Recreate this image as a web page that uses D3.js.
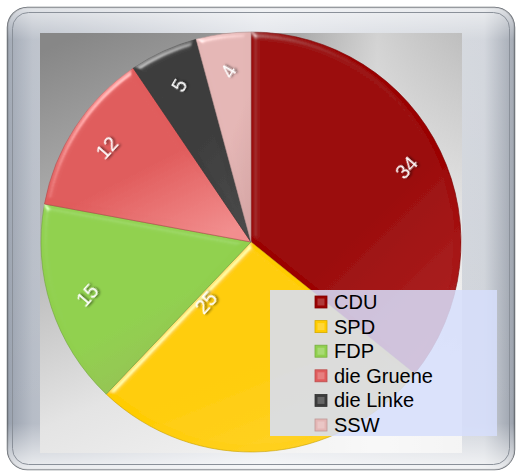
<!DOCTYPE html>
<html>
<head>
<meta charset="utf-8">
<script src="https://cdn.jsdelivr.net/npm/d3@7"></script>
<style>
  html, body { margin: 0; padding: 0; background: #fff; }
  svg { display: block; }
</style>
</head>
<body>
<svg id="chart" width="518" height="473"></svg>
<script>
const parties = ['CDU', 'SPD', 'FDP', 'die Gruene', 'die Linke', 'SSW'];
const seats = [34, 25, 15, 12, 5, 4];
const partyColors = ['#9a0202', '#ffcc00', '#90d04e', '#e05c5c', '#3c3c3c', '#e4b6b5'];
const partyLight = ['#ae2222', '#ffd22a', '#9bbb59', '#f28e8e', '#484848', '#d6a6a5'];

const width = 518;
const height = 473;
const svg = d3.select('#chart');
const defs = svg.append('defs');

// frame gradients
const frameGrad = defs.append('linearGradient')
  .attr('id', 'frameGrad').attr('x1', 0).attr('x2', 1).attr('y1', 0).attr('y2', 0);
frameGrad.selectAll('stop')
  .data([['0', '#98a0ad'], ['0.05', '#b7bdc7'], ['0.5', '#dfe2e8'], ['0.94', '#cfd3da'], ['1', '#9aa1ac']])
  .join('stop').attr('offset', (d) => d[0]).attr('stop-color', (d) => d[1]);

const frameV = defs.append('linearGradient')
  .attr('id', 'frameV').attr('x1', 0).attr('x2', 0).attr('y1', 0).attr('y2', 1);
frameV.selectAll('stop')
  .data([['0', '#ffffff', 0.6], ['0.07', '#ffffff', 0.1], ['0.9', '#ffffff', 0], ['1', '#ffffff', 0.75]])
  .join('stop').attr('offset', (d) => d[0]).attr('stop-color', (d) => d[1]).attr('stop-opacity', (d) => d[2]);

const plotGrad = defs.append('linearGradient')
  .attr('id', 'plotGrad').attr('x1', 0.1).attr('x2', 0.55).attr('y1', 0).attr('y2', 1);
plotGrad.selectAll('stop')
  .data([['0', '#878787'], ['0.35', '#b0b0b0'], ['0.75', '#e4e4e4'], ['1', '#f2f2f2']])
  .join('stop').attr('offset', (d) => d[0]).attr('stop-color', (d) => d[1]);

const plotSheen = defs.append('linearGradient')
  .attr('id', 'plotSheen').attr('x1', 0).attr('x2', 1).attr('y1', 0).attr('y2', 0);
plotSheen.selectAll('stop')
  .data([['0', '#fff', 0], ['0.55', '#fff', 0], ['0.8', '#fff', 0.5], ['1', '#fff', 0.2]])
  .join('stop').attr('offset', (d) => d[0]).attr('stop-color', (d) => d[1]).attr('stop-opacity', (d) => d[2]);

parties.forEach((p, i) => {
  const g = defs.append('linearGradient')
    .attr('id', `slice${i}`).attr('x1', 0.2).attr('x2', 0.8).attr('y1', 0).attr('y2', 1);
  g.append('stop').attr('offset', 0).attr('stop-color', partyColors[i]);
  g.append('stop').attr('offset', 0.55).attr('stop-color', partyColors[i]);
  g.append('stop').attr('offset', 1).attr('stop-color', partyLight[i]);
});

const shadow = defs.append('filter').attr('id', 'txtShadow')
  .attr('x', '-50%').attr('y', '-50%').attr('width', '200%').attr('height', '200%');
shadow.append('feDropShadow')
  .attr('dx', 1.5).attr('dy', 1.5).attr('stdDeviation', 1)
  .attr('flood-color', '#000').attr('flood-opacity', 0.6);

// soft bevel on the slice edges
const bevel = defs.append('filter').attr('id', 'bevel')
  .attr('x', '-5%').attr('y', '-5%').attr('width', '110%').attr('height', '110%');
bevel.append('feGaussianBlur').attr('in', 'SourceAlpha').attr('stdDeviation', 3).attr('result', 'blur');
bevel.append('feSpecularLighting')
  .attr('in', 'blur').attr('surfaceScale', 4).attr('specularConstant', 0.9)
  .attr('specularExponent', 30).attr('lighting-color', '#ffffff').attr('result', 'spec')
  .append('feDistantLight').attr('azimuth', 235).attr('elevation', 28);
bevel.append('feComposite').attr('in', 'spec').attr('in2', 'SourceAlpha')
  .attr('operator', 'in').attr('result', 'specOut');
bevel.append('feComposite').attr('in', 'SourceGraphic').attr('in2', 'specOut')
  .attr('operator', 'arithmetic').attr('k1', 0).attr('k2', 1).attr('k3', 0.45).attr('k4', 0);

// outer frame
svg.append('rect')
  .attr('x', 7.5).attr('y', 7.5).attr('width', 507).attr('height', 462).attr('rx', 20)
  .attr('fill', 'url(#frameGrad)').attr('stroke', '#6a6f76').attr('stroke-width', 1.5);
svg.append('rect')
  .attr('x', 7.5).attr('y', 7.5).attr('width', 507).attr('height', 462).attr('rx', 20)
  .attr('fill', 'url(#frameV)');
svg.append('rect')
  .attr('x', 12.5).attr('y', 12.5).attr('width', 497).attr('height', 452).attr('rx', 16)
  .attr('fill', 'none').attr('stroke', '#8a9099').attr('stroke-width', 1);

// plot area
const plot = { x: 40, y: 33, w: 422, h: 420 };
svg.append('rect')
  .attr('x', plot.x).attr('y', plot.y).attr('width', plot.w).attr('height', plot.h)
  .attr('fill', 'url(#plotGrad)');
svg.append('rect')
  .attr('x', plot.x).attr('y', plot.y).attr('width', plot.w).attr('height', plot.h)
  .attr('fill', 'url(#plotSheen)');

// pie
const cx = 251;
const cy = 242;
const radius = 210;

const pie = d3.pie().sort(null).value((d) => d)(seats);
const arc = d3.arc().innerRadius(0).outerRadius(radius);
const labelArc = d3.arc().innerRadius(radius * 0.82).outerRadius(radius * 0.82);
// SPD label sits inward, next to the FDP border (best fit beside the legend)
const spdLabelArc = d3.arc().innerRadius(radius * 0.36).outerRadius(radius * 0.36);

const pieG = svg.append('g').attr('transform', `translate(${cx},${cy})`);

pieG.selectAll('path.slice')
  .data(pie)
  .join('path')
  .attr('class', 'slice')
  .attr('d', arc)
  .attr('fill', (d, i) => `url(#slice${i})`)
  .attr('filter', 'url(#bevel)')
  .attr('stroke', (d, i) => d3.color(partyColors[i]).darker(0.7))
  .attr('stroke-width', 0.6);

pieG.selectAll('text.val')
  .data(pie)
  .join('text')
  .attr('class', 'val')
  .attr('transform', (d, i) => {
    let c;
    if (i === 1) {
      const a = d.endAngle - 0.12;
      c = spdLabelArc.centroid({ startAngle: a, endAngle: a });
    } else {
      c = labelArc.centroid(d);
    }
    const rot = d.value <= 5 ? -60 : -48;
    return `translate(${c[0]},${c[1]}) rotate(${rot})`;
  })
  .attr('text-anchor', 'middle')
  .attr('dominant-baseline', 'central')
  .attr('font-family', 'Liberation Sans, Arial, sans-serif')
  .attr('font-size', 20)
  .attr('fill', '#fff')
  .attr('filter', 'url(#txtShadow)')
  .text((d) => d.value);

// legend
const legend = svg.append('g').attr('transform', 'translate(270,290)');
legend.append('rect')
  .attr('width', 227).attr('height', 146)
  .attr('fill', '#d6defb').attr('fill-opacity', 0.86);

const rowY = d3.scalePoint().domain(parties).range([12, 135]);

const rows = legend.selectAll('g.item')
  .data(parties)
  .join('g')
  .attr('class', 'item')
  .attr('transform', (d) => `translate(0,${rowY(d)})`);

rows.append('rect')
  .attr('x', 45).attr('y', -6).attr('width', 12).attr('height', 12)
  .attr('fill', (d, i) => partyColors[i])
  .attr('stroke', (d, i) => d3.color(partyColors[i]).darker(0.5))
  .attr('stroke-width', 0.8);
rows.append('rect')
  .attr('x', 47.5).attr('y', -3.5).attr('width', 7).attr('height', 7)
  .attr('fill', '#fff').attr('fill-opacity', 0.22);

rows.append('text')
  .attr('x', 64).attr('y', 0)
  .attr('dominant-baseline', 'central')
  .attr('font-family', 'Liberation Sans, Arial, sans-serif')
  .attr('font-size', 20)
  .attr('fill', '#000')
  .text((d) => d);
</script>
</body>
</html>
